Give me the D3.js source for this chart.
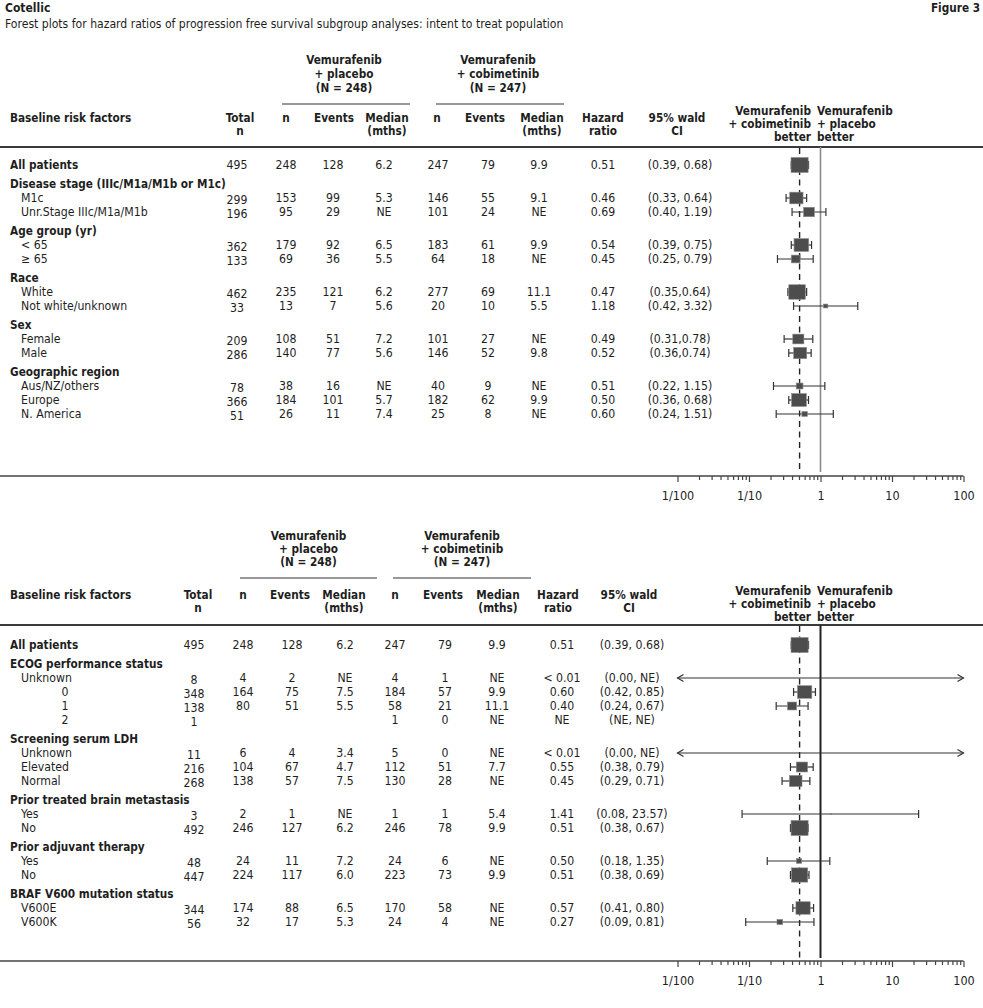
<!DOCTYPE html>
<html>
<head>
<meta charset="utf-8">
<script src="https://cdn.jsdelivr.net/npm/d3@7"></script>
<style>
  body { margin: 0; background: #fff; }
  svg text { font-family: "DejaVu Sans Condensed", "Liberation Sans Narrow", sans-serif; fill: #1e1e1e; font-size: 12.2px; }
  svg text.b { font-weight: bold; font-size: 11.7px; }
</style>
</head>
<body>
<div id="container"></div>
<script>
const width = 983;
const height = 1008;

// ---- header texts ----
const title = "Cotellic";
const subtitle = "Forest plots for hazard ratios of progression free survival subgroup analyses: intent to treat population";
const figLabel = "Figure 3";
const armHeads = [["Vemurafenib", "+ placebo", "(N = 248)"], ["Vemurafenib", "+ cobimetinib", "(N = 247)"]];
const colHeads = [["Total", "n"], ["n"], ["Events"], ["Median", "(mths)"], ["n"], ["Events"], ["Median", "(mths)"], ["Hazard", "ratio"], ["95% wald", "CI"]];
const favourLeft = ["Vemurafenib", "+ cobimetinib", "better"];
const favourRight = ["Vemurafenib", "+ placebo", "better"];
const tickVals = [0.01, 0.1, 1, 10, 100];
const tickLabels = ["1/100", "1/10", "1", "10", "100"];

// ---- top panel data ----
// cells: total n, placebo n/events/median, cobimetinib n/events/median, HR, 95% CI
const topLabels = ["All patients", "Disease stage (IIIc/M1a/M1b or M1c)", "M1c", "Unr.Stage IIIc/M1a/M1b",
  "Age group (yr)", "< 65", "≥ 65", "Race", "White", "Not white/unknown", "Sex", "Female", "Male",
  "Geographic region", "Aus/NZ/others", "Europe", "N. America"];
const topLevel = [0, 1, 2, 2, 1, 2, 2, 1, 2, 2, 1, 2, 2, 1, 2, 2, 2];
const topCells = [
  ["495", "248", "128", "6.2", "247", "79", "9.9", "0.51", "(0.39, 0.68)"],
  [],
  ["299", "153", "99", "5.3", "146", "55", "9.1", "0.46", "(0.33, 0.64)"],
  ["196", "95", "29", "NE", "101", "24", "NE", "0.69", "(0.40, 1.19)"],
  [],
  ["362", "179", "92", "6.5", "183", "61", "9.9", "0.54", "(0.39, 0.75)"],
  ["133", "69", "36", "5.5", "64", "18", "NE", "0.45", "(0.25, 0.79)"],
  [],
  ["462", "235", "121", "6.2", "277", "69", "11.1", "0.47", "(0.35,0.64)"],
  ["33", "13", "7", "5.6", "20", "10", "5.5", "1.18", "(0.42, 3.32)"],
  [],
  ["209", "108", "51", "7.2", "101", "27", "NE", "0.49", "(0.31,0.78)"],
  ["286", "140", "77", "5.6", "146", "52", "9.8", "0.52", "(0.36,0.74)"],
  [],
  ["78", "38", "16", "NE", "40", "9", "NE", "0.51", "(0.22, 1.15)"],
  ["366", "184", "101", "5.7", "182", "62", "9.9", "0.50", "(0.36, 0.68)"],
  ["51", "26", "11", "7.4", "25", "8", "NE", "0.60", "(0.24, 1.51)"]
];

// ---- bottom panel data ----
const botLabels = ["All patients", "ECOG performance status", "Unknown", "0", "1", "2",
  "Screening serum LDH", "Unknown", "Elevated", "Normal", "Prior treated brain metastasis", "Yes", "No",
  "Prior adjuvant therapy", "Yes", "No", "BRAF V600 mutation status", "V600E", "V600K"];
const botLevel = [0, 1, 2, 2, 2, 2, 1, 2, 2, 2, 1, 2, 2, 1, 2, 2, 1, 2, 2];
const botCells = [
  ["495", "248", "128", "6.2", "247", "79", "9.9", "0.51", "(0.39, 0.68)"],
  [],
  ["8", "4", "2", "NE", "4", "1", "NE", "< 0.01", "(0.00, NE)"],
  ["348", "164", "75", "7.5", "184", "57", "9.9", "0.60", "(0.42, 0.85)"],
  ["138", "80", "51", "5.5", "58", "21", "11.1", "0.40", "(0.24, 0.67)"],
  ["1", "", "", "", "1", "0", "NE", "NE", "(NE, NE)"],
  [],
  ["11", "6", "4", "3.4", "5", "0", "NE", "< 0.01", "(0.00, NE)"],
  ["216", "104", "67", "4.7", "112", "51", "7.7", "0.55", "(0.38, 0.79)"],
  ["268", "138", "57", "7.5", "130", "28", "NE", "0.45", "(0.29, 0.71)"],
  [],
  ["3", "2", "1", "NE", "1", "1", "5.4", "1.41", "(0.08, 23.57)"],
  ["492", "246", "127", "6.2", "246", "78", "9.9", "0.51", "(0.38, 0.67)"],
  [],
  ["48", "24", "11", "7.2", "24", "6", "NE", "0.50", "(0.18, 1.35)"],
  ["447", "224", "117", "6.0", "223", "73", "9.9", "0.51", "(0.38, 0.69)"],
  [],
  ["344", "174", "88", "6.5", "170", "58", "NE", "0.57", "(0.41, 0.80)"],
  ["56", "32", "17", "5.3", "24", "4", "NE", "0.27", "(0.09, 0.81)"]
];

const svg = d3.select("div#container")
  .append("svg")
  .attr("width", width)
  .attr("height", height);

const x = d3.scaleLog().domain([0.01, 100]).range([677.5, 963.5]);
const boxSize = d3.scaleSqrt().domain([0, 495]).range([0, 15]);

function parseHR(s) {
  const v = +s;
  return (s === undefined || isNaN(v)) ? null : v;
}
function parseCI(s) {
  if (!s) return null;
  const p = s.replace(/[()\s]/g, "").split(",");
  if (p[0] === "NE") return null;
  return [+p[0], p[1] === "NE" ? Infinity : +p[1]];
}

// title
svg.append("text").attr("class", "b").attr("x", 5).attr("y", 12).style("font-size", "12px").text(title);
svg.append("text").attr("x", 5).attr("y", 28).style("font-size", "12.1px").text(subtitle);
svg.append("text").attr("class", "b").attr("x", 980).attr("y", 12).attr("text-anchor", "end").text(figLabel);

function multiline(g, lines, xx, y0, step, anchor, cls) {
  lines.forEach(function(t, i) {
    g.append("text")
      .attr("class", cls)
      .attr("x", xx)
      .attr("y", y0 + i * step)
      .attr("text-anchor", anchor)
      .text(t);
  });
}

function drawPanel(cfg) {
  const g = svg.append("g");
  const [x0, x1] = x.range();

  // arm group headers + underlines
  armHeads.forEach(function(lines, i) {
    const a = cfg.arms[i];
    multiline(g, lines, (a[0] + a[1]) / 2 + cfg.armShift, cfg.armY, cfg.armStep, "middle", "b");
    g.append("line")
      .attr("x1", a[0]).attr("x2", a[1])
      .attr("y1", cfg.armLineY).attr("y2", cfg.armLineY)
      .attr("stroke", "#333").attr("stroke-width", 1.2);
  });

  // column headers
  g.append("text").attr("class", "b").attr("x", 10).attr("y", cfg.headY).text("Baseline risk factors");
  colHeads.forEach(function(lines, i) {
    multiline(g, lines, cfg.headX[i], cfg.headY, 13, "middle", "b");
  });
  multiline(g, favourLeft, 811, cfg.favY, 13, "end", "b");
  multiline(g, favourRight, 817, cfg.favY, 13, "start", "b");

  // thick rule under header
  g.append("line")
    .attr("x1", 0).attr("x2", width)
    .attr("y1", cfg.ruleY).attr("y2", cfg.ruleY)
    .attr("stroke", "#3a3a3a").attr("stroke-width", 2.2);

  // row positions
  let yy = cfg.y0;
  const rows = cfg.labels.map(function(label, i) {
    if (i > 0) yy += cfg.level[i] === 2 ? 14 : 19;
    const c = cfg.cells[i];
    return {
      label: label, level: cfg.level[i], cells: c, y: yy,
      hr: parseHR(c[7]), ci: parseCI(c[8]), n: +c[0]
    };
  });

  // row labels
  g.selectAll(".lab")
    .data(rows)
    .enter()
    .append("text")
    .attr("class", function(d) { return d.level < 2 ? "lab b" : "lab"; })
    .attr("x", function(d) { return /^\d$/.test(d.label) ? 65 : (d.level < 2 ? 10 : 21); })
    .attr("text-anchor", function(d) { return /^\d$/.test(d.label) ? "middle" : "start"; })
    .attr("y", function(d) { return d.y; })
    .attr("dy", "0.36em")
    .text(function(d) { return d.label; });

  // table cells
  rows.forEach(function(d) {
    d.cells.forEach(function(t, j) {
      g.append("text")
        .attr("x", cfg.colX[j])
        .attr("y", d.y + (j === 0 && d.level === 2 ? 1.5 : 0))
        .attr("dy", "0.36em")
        .attr("text-anchor", "middle")
        .text(t);
    });
  });

  // reference lines
  const allHR = rows[0].hr;
  g.append("line")
    .attr("x1", x(1)).attr("x2", x(1))
    .attr("y1", cfg.ruleY).attr("y2", cfg.refBottom)
    .attr("stroke", cfg.solidColor).attr("stroke-width", cfg.solidWidth);
  g.append("line")
    .attr("x1", x(allHR)).attr("x2", x(allHR))
    .attr("y1", cfg.ruleY + 1).attr("y2", cfg.refBottom + 1)
    .attr("stroke", "#222").attr("stroke-width", 1.4)
    .attr("stroke-dasharray", "6,4.5");

  // confidence intervals
  const ciRows = rows.filter(function(d) { return d.ci; });
  ciRows.forEach(function(d) {
    const lo = d.ci[0], hi = d.ci[1];
    const lx = lo < 0.01 ? x0 : x(lo);
    const hx = hi > 100 ? x1 : x(hi);
    g.append("line")
      .attr("x1", lx).attr("x2", hx)
      .attr("y1", d.y).attr("y2", d.y)
      .attr("stroke", "#333").attr("stroke-width", 1.2);
    if (lo < 0.01) {
      g.append("path").attr("d", "M" + (lx + 6) + "," + (d.y - 3.5) + "L" + lx + "," + d.y + "L" + (lx + 6) + "," + (d.y + 3.5))
        .attr("fill", "none").attr("stroke", "#333").attr("stroke-width", 1.2);
    } else {
      g.append("line").attr("x1", lx).attr("x2", lx).attr("y1", d.y - 4).attr("y2", d.y + 4)
        .attr("stroke", "#333").attr("stroke-width", 1.2);
    }
    if (hi > 100) {
      g.append("path").attr("d", "M" + (hx - 6) + "," + (d.y - 3.5) + "L" + hx + "," + d.y + "L" + (hx - 6) + "," + (d.y + 3.5))
        .attr("fill", "none").attr("stroke", "#333").attr("stroke-width", 1.2);
    } else {
      g.append("line").attr("x1", hx).attr("x2", hx).attr("y1", d.y - 4).attr("y2", d.y + 4)
        .attr("stroke", "#333").attr("stroke-width", 1.2);
    }
  });

  // boxes
  g.selectAll(".box")
    .data(rows.filter(function(d) { return d.hr !== null && d.hr >= 0.01; }))
    .enter()
    .append("rect")
    .attr("class", "box")
    .attr("x", function(d) { return x(d.hr) - boxSize(d.n) * 0.57; })
    .attr("y", function(d) { return d.y - boxSize(d.n) / 2; })
    .attr("width", function(d) { return boxSize(d.n) * 1.14; })
    .attr("height", function(d) { return boxSize(d.n); })
    .attr("fill", "#4d4d4d")
    .attr("stroke", "#8a8a8a")
    .attr("stroke-width", 0.6);

  // axis
  g.append("line")
    .attr("x1", 0).attr("x2", x1)
    .attr("y1", cfg.axisY).attr("y2", cfg.axisY)
    .attr("stroke", "#444").attr("stroke-width", 1.4);

  const minors = [];
  tickVals.slice(0, -1).forEach(function(v) {
    for (let k = 2; k <= 9; k++) minors.push(v * k);
  });

  const minorAxis = d3.axisBottom(x).tickValues(minors).tickSize(4).tickFormat("");
  const majorAxis = d3.axisBottom(x).tickValues(tickVals).tickSize(6).tickPadding(9)
    .tickFormat(function(d, i) { return tickLabels[i]; });

  [minorAxis, majorAxis].forEach(function(ax) {
    const a = g.append("g")
      .attr("transform", "translate(0," + cfg.axisY + ")")
      .call(ax);
    a.select(".domain").remove();
    a.selectAll("line").attr("stroke", "#444").attr("stroke-width", 1.2);
    a.selectAll("text").attr("fill", "#1e1e1e").style("font-size", "12.5px")
      .style("font-family", "'DejaVu Sans Condensed', 'Liberation Sans Narrow', sans-serif");
  });
}

drawPanel({
  labels: topLabels, level: topLevel, cells: topCells,
  arms: [[282, 410], [436, 564]], armShift: -2, armY: 64, armStep: 14, armLineY: 104,
  headY: 122, headX: [240, 286, 334, 387, 437, 485, 542, 603, 677], favY: 115,
  colX: [237, 286, 333, 384, 438, 488, 539, 603, 680],
  ruleY: 147, y0: 165, refBottom: 472, axisY: 476,
  solidColor: "#8c8c8c", solidWidth: 1.6
});

drawPanel({
  labels: botLabels, level: botLevel, cells: botCells,
  arms: [[240, 377], [393, 531]], armShift: 0, armY: 540, armStep: 13, armLineY: 578,
  headY: 599, headX: [198, 243, 290, 344, 395, 443, 498, 558, 629], favY: 595,
  colX: [194, 243, 292, 345, 395, 445, 497, 562, 632],
  ruleY: 625, y0: 645, refBottom: 958, axisY: 961,
  solidColor: "#222", solidWidth: 2
});
</script>
</body>
</html>
